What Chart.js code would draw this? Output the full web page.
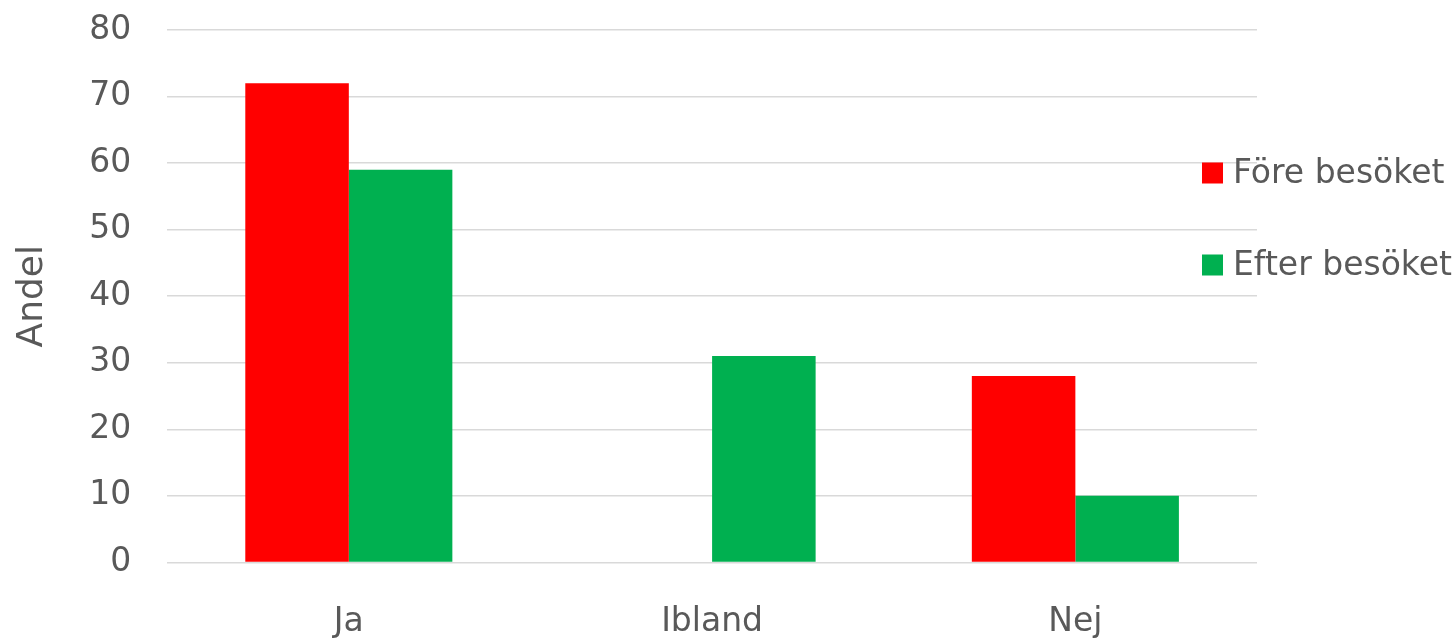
<!DOCTYPE html>
<html>
<head>
<meta charset="utf-8">
<script src="https://cdn.jsdelivr.net/npm/chart.js@4"></script>
<style>
  html, body { margin: 0; padding: 0; background: #fff; }
  #wrap { width: 1455px; height: 642px; }
</style>
</head>
<body>
<div id="wrap"><canvas id="chart"></canvas></div>
<script>
var categories = ["Ja", "Ibland", "Nej"];
var foreValues = [72, 0, 28];
var efterValues = [59, 31, 10];
var seriesLabels = ["Före besöket", "Efter besöket"];
var seriesColors = ["#FF0000", "#00B050"];
var yTicks = [0, 10, 20, 30, 40, 50, 60, 70, 80];

const TEXT_COLOR = "#595959";
const FONT = "'DejaVu Sans', Tahoma, sans-serif";

// legend sits on top of the plot's right edge, so draw it by hand
var sideLegend = {
    id: "sideLegend",
    afterDraw: function (chart) {
        var ctx = chart.ctx;
        var rows = [173, 265];
        ctx.save();
        ctx.font = "33px " + FONT;
        ctx.textBaseline = "middle";
        ctx.textAlign = "left";
        for (var i = 0; i < seriesLabels.length; i++) {
            ctx.fillStyle = seriesColors[i];
            ctx.fillRect(1202, rows[i] - 10.5, 21, 21);
            ctx.fillStyle = TEXT_COLOR;
            ctx.fillText(seriesLabels[i], 1233, rows[i] + 1);
        }
        ctx.restore();
    }
};

var ctx = document.getElementById("chart").getContext("2d");
new Chart(ctx, {
    type: "bar",
    data: {
        labels: categories,
        datasets: [{
            label: seriesLabels[0],
            data: foreValues,
            backgroundColor: seriesColors[0]
        }, {
            label: seriesLabels[1],
            data: efterValues,
            backgroundColor: seriesColors[1]
        }]
    },
    options: {
        responsive: true,
        maintainAspectRatio: false,
        animation: false,
        categoryPercentage: 0.57,
        barPercentage: 1.0,
        layout: {
            padding: { left: 7, right: 198, top: 30, bottom: -40 }
        },
        plugins: {
            legend: { display: false },
            tooltip: { enabled: false }
        },
        scales: {
            x: {
                grid: { display: false, drawTicks: false },
                border: { display: false },
                ticks: {
                    color: TEXT_COLOR,
                    font: { family: FONT, size: 33 },
                    padding: 40
                }
            },
            y: {
                min: 0,
                max: 80,
                afterBuildTicks: function (axis) {
                    axis.ticks = yTicks.map(function (v) { return { value: v }; });
                },
                // invisible tick marks give the gap between labels and grid
                grid: {
                    color: "#D9D9D9",
                    lineWidth: 1.5,
                    drawTicks: true,
                    tickLength: 36,
                    tickColor: "rgba(0,0,0,0)"
                },
                border: { display: false },
                ticks: {
                    color: TEXT_COLOR,
                    font: { family: FONT, size: 33 },
                    padding: 0
                },
                title: {
                    display: true,
                    text: "Andel",
                    color: TEXT_COLOR,
                    font: { family: FONT, size: 36 },
                    padding: { top: 4, bottom: 35 }
                }
            }
        }
    },
    plugins: [sideLegend]
});
</script>
</body>
</html>
